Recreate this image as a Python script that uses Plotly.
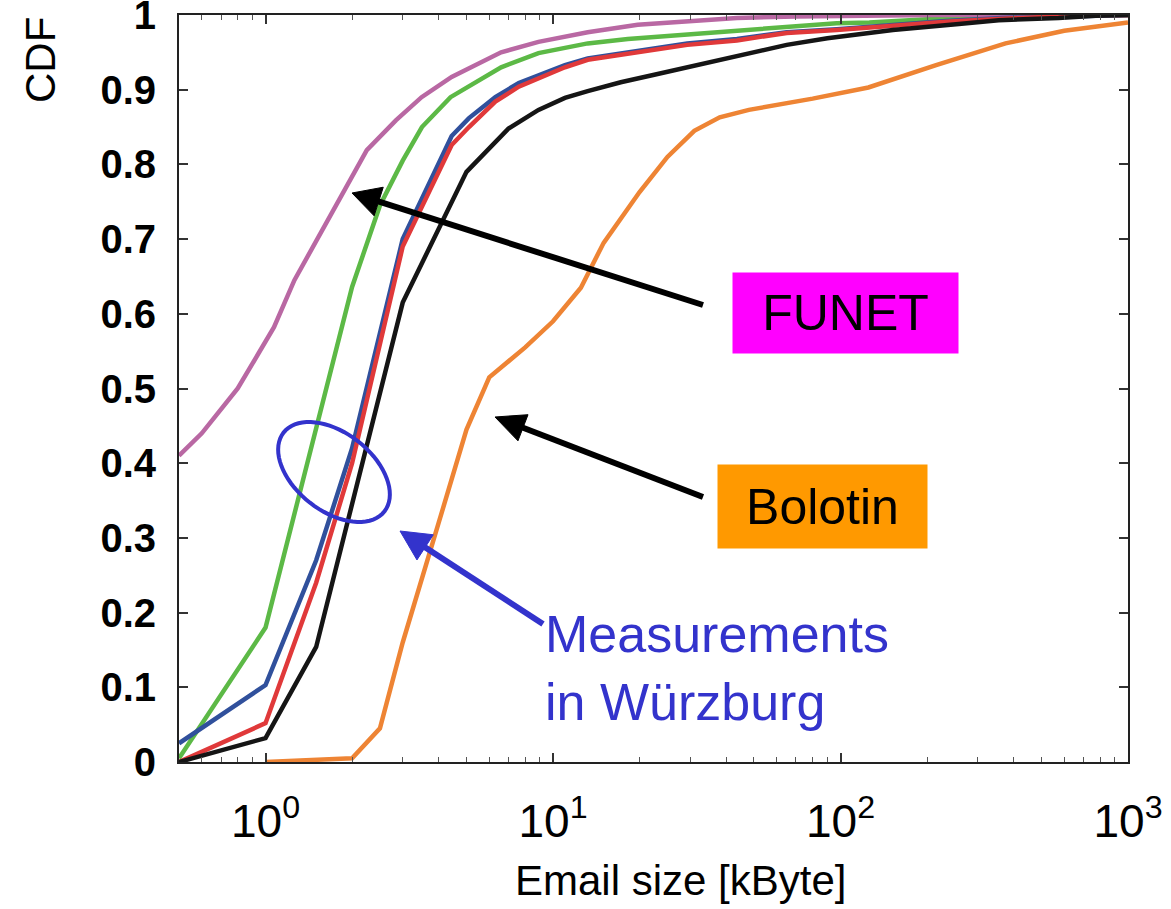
import numpy as np
import plotly.graph_objects as go

# ---------------- data ----------------
funet_x = [0.5, 0.6, 0.8, 1.07, 1.26, 1.51, 1.83, 2.25, 2.84, 3.49, 4.44, 6.6, 8.9, 13.2, 19.7, 31.7, 43.6, 70, 210, 1000]
funet_y = [0.41, 0.44, 0.50, 0.582, 0.645, 0.70, 0.757, 0.819, 0.859, 0.89, 0.917, 0.95, 0.964, 0.977, 0.987, 0.992, 0.996, 0.998, 1.0, 1.0]

green_x = [0.5, 1, 2, 2.5, 3, 3.5, 4.4, 6.6, 8.9, 13.2, 18.2, 27, 33.6, 43.6, 65, 97, 126, 188, 273, 366, 1000]
green_y = [0.005, 0.18, 0.636, 0.745, 0.805, 0.85, 0.89, 0.93, 0.949, 0.962, 0.968, 0.973, 0.976, 0.979, 0.984, 0.989, 0.99, 0.994, 0.997, 1.0, 1.0]

blue_x = [0.5, 1, 1.5, 2, 3, 4, 4.44, 5.1, 6.3, 7.6, 8.9, 11, 13.2, 15.5, 19.7, 29.3, 43.6, 65, 97, 144, 233, 366, 546, 750, 1000]
blue_y = [0.025, 0.103, 0.27, 0.42, 0.70, 0.80, 0.838, 0.862, 0.89, 0.909, 0.919, 0.933, 0.942, 0.946, 0.952, 0.962, 0.968, 0.977, 0.981, 0.986, 0.992, 0.996, 0.998, 1.0, 1.0]

red_x = [0.5, 1, 1.5, 2, 3, 4, 4.44, 5.1, 6.3, 7.6, 8.9, 11, 13.2, 15.5, 19.7, 29.3, 43.6, 65, 97, 144, 233, 366, 546, 750, 1000]
red_y = [0.0, 0.052, 0.24, 0.40, 0.69, 0.792, 0.826, 0.85, 0.884, 0.904, 0.915, 0.93, 0.94, 0.944, 0.95, 0.96, 0.966, 0.976, 0.98, 0.985, 0.991, 0.995, 0.998, 1.0, 1.0]

black_x = [0.5, 1, 1.5, 3, 5, 7, 8.9, 11, 13.2, 17.2, 22.5, 29.3, 37, 48, 65, 90, 116, 152, 258, 355, 573, 770, 1000]
black_y = [0.0, 0.032, 0.154, 0.615, 0.79, 0.848, 0.873, 0.889, 0.898, 0.91, 0.92, 0.93, 0.94, 0.95, 0.96, 0.969, 0.974, 0.98, 0.988, 0.993, 0.996, 0.999, 1.0]

bolotin_x = [1, 2, 2.5, 3, 4, 5, 6, 8, 10, 12.5, 15, 20, 25, 31, 38, 48, 80, 125, 215, 375, 600, 1000]
bolotin_y = [0.0, 0.005, 0.045, 0.16, 0.32, 0.445, 0.515, 0.555, 0.59, 0.635, 0.695, 0.763, 0.81, 0.845, 0.863, 0.873, 0.888, 0.903, 0.933, 0.962, 0.979, 0.99]

y_ticks = [0, 0.1, 0.2, 0.3, 0.4, 0.5, 0.6, 0.7, 0.8, 0.9, 1]
y_tick_text = ["0", "0.1", "0.2", "0.3", "0.4", "0.5", "0.6", "0.7", "0.8", "0.9", "1"]
x_ticks = [1, 10, 100, 1000]
x_tick_text = ["10<sup>0</sup>", "10<sup>1</sup>", "10<sup>2</sup>", "10<sup>3</sup>"]

# ---------------- layout geometry ----------------
W, H = 1171, 909
L, R, T, B = 179, 1128, 15, 762

def pp(px, py):
    return (px - L) / (R - L), (B - py) / (B - T)

fig = go.Figure()
series = [
    (green_x, green_y, "#5cb946"),
    (funet_x, funet_y, "#b968a3"),
    (blue_x, blue_y, "#30509c"),
    (red_x, red_y, "#e0393a"),
    (black_x, black_y, "#151515"),
    (bolotin_x, bolotin_y, "#ee8434"),
]
for xs, ys, c in series:
    fig.add_trace(go.Scatter(x=xs, y=ys, mode="lines", line=dict(color=c, width=4.5),
                             showlegend=False, hoverinfo="skip", cliponaxis=False))

shapes = []
annotations = []

def arrow(tail, tip, hl, hw, color, width):
    tx, ty = tail
    hx, hy = tip
    dx, dy = hx - tx, hy - ty
    n = (dx * dx + dy * dy) ** 0.5
    ux, uy = dx / n, dy / n
    bx, by = hx - ux * hl, hy - uy * hl
    px_, py_ = -uy, ux
    a = pp(tx, ty)
    b = pp(bx + ux * 2, by + uy * 2)
    shapes.append(dict(type="line", xref="paper", yref="paper", x0=a[0], y0=a[1], x1=b[0], y1=b[1],
                       line=dict(color=color, width=width)))
    p1 = pp(hx, hy)
    p2 = pp(bx + px_ * hw, by + py_ * hw)
    p3 = pp(bx - px_ * hw, by - py_ * hw)
    path = f"M {p1[0]} {p1[1]} L {p2[0]} {p2[1]} L {p3[0]} {p3[1]} Z"
    shapes.append(dict(type="path", xref="paper", yref="paper", path=path,
                       fillcolor=color, line=dict(color=color, width=1)))

arrow((703, 305), (352, 193), 28, 15, "black", 6)
arrow((703, 497), (495, 417), 30, 14, "black", 6)
arrow((543, 624), (400, 531), 30, 15, "#3333cc", 6)

# ellipse
cx, cy, ea, eb, th = 334, 472, 64, 39, np.deg2rad(38)
t = np.linspace(0, 2 * np.pi, 73)
ex = cx + ea * np.cos(t) * np.cos(th) - eb * np.sin(t) * np.sin(th)
ey = cy + ea * np.cos(t) * np.sin(th) + eb * np.sin(t) * np.cos(th)
pts = [pp(a, b) for a, b in zip(ex, ey)]
epath = "M " + " L ".join(f"{a} {b}" for a, b in pts) + " Z"
shapes.append(dict(type="path", xref="paper", yref="paper", path=epath,
                   line=dict(color="#3333cc", width=4)))

# boxes
fx, fy = pp((733 + 958) / 2, (273 + 353) / 2)
annotations.append(dict(x=fx, y=fy, xref="paper", yref="paper", text="FUNET", showarrow=False,
                        xanchor="center", yanchor="middle",
                        bgcolor="#ff00ff", width=225, height=80, borderpad=0,
                        font=dict(family="Liberation Sans, Arial", size=50, color="black")))
bx_, by_ = pp((718 + 927) / 2, (465 + 548) / 2)
annotations.append(dict(x=bx_, y=by_, xref="paper", yref="paper", text="Bolotin", showarrow=False,
                        xanchor="center", yanchor="middle",
                        bgcolor="#ff9900", width=209, height=83, borderpad=0,
                        font=dict(family="Liberation Sans, Arial", size=50, color="black")))
mx, my = pp(543, 668)
annotations.append(dict(x=mx, y=my, xref="paper", yref="paper", text="Measurements<br>in Würzburg",
                        showarrow=False, xanchor="left", yanchor="middle", align="left",
                        font=dict(family="Liberation Sans, Arial", size=52, color="#3333cc")))

# axis titles
tx_, ty_ = pp(680, 880)
annotations.append(dict(x=tx_, y=ty_, xref="paper", yref="paper", text="Email size [kByte]",
                        showarrow=False, xanchor="center", yanchor="middle",
                        font=dict(family="Liberation Sans, Arial", size=42, color="black")))
cx_, cy_ = pp(41, 60)
annotations.append(dict(x=cx_, y=cy_, xref="paper", yref="paper", text="CDF", textangle=-90,
                        showarrow=False, xanchor="center", yanchor="middle",
                        font=dict(family="Liberation Sans, Arial", size=42, color="black")))

fig.update_layout(
    width=W, height=H,
    margin=dict(l=L, r=W - R, t=T, b=H - B, autoexpand=False),
    paper_bgcolor="white", plot_bgcolor="white",
    shapes=shapes, annotations=annotations,
    xaxis=dict(type="log", range=[np.log10(0.5), 3], showgrid=False, zeroline=False, automargin=False,
               tickvals=x_ticks, ticktext=x_tick_text, ticks="inside", ticklen=9, tickwidth=1.5,
               tickcolor="#333", showline=True, linecolor="#222", linewidth=2, mirror="allticks",
               ticklabelstandoff=18, ticklabeloverflow="allow",
               tickfont=dict(family="Liberation Sans, Arial", size=46, color="black"),
               minor=dict(ticks="inside", ticklen=5, tickwidth=1, tickcolor="#555",
                          tickvals=[0.6, 0.7, 0.8, 0.9, 2, 3, 4, 5, 6, 7, 8, 9, 20, 30, 40, 50, 60, 70, 80, 90,
                                    200, 300, 400, 500, 600, 700, 800, 900])),
    yaxis=dict(range=[0, 1], showgrid=False, zeroline=False, automargin=False,
               tickvals=y_ticks, ticktext=y_tick_text,
               ticks="inside", ticklen=9, tickwidth=1.5, tickcolor="#333", showline=True,
               linecolor="#222", linewidth=2, mirror="allticks", ticklabelstandoff=13,
               ticklabeloverflow="allow",
               tickfont=dict(family="Liberation Sans, Arial", size=40, color="black", weight="bold")),
)

fig.write_html("out.html")
